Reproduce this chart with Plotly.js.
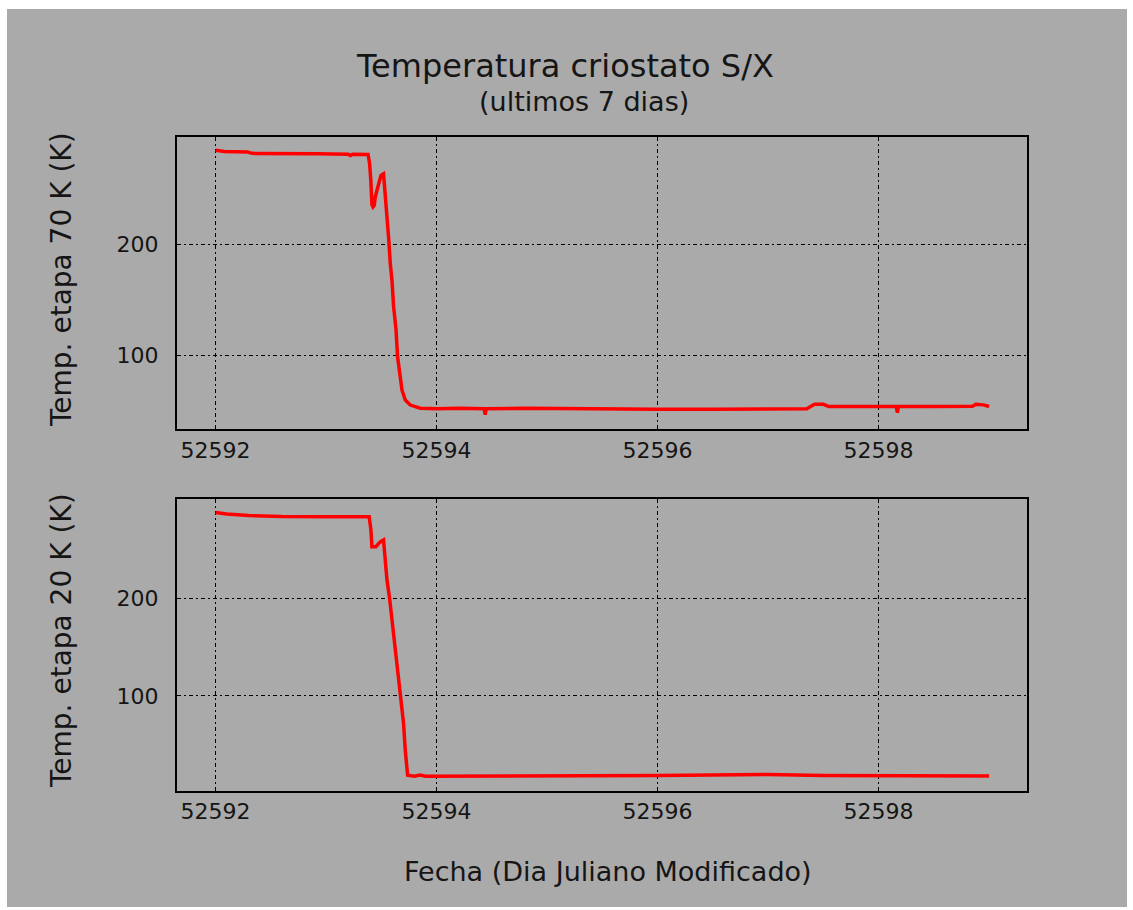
<!DOCTYPE html>
<html>
<head>
<meta charset="utf-8">
<script src="https://cdn.plot.ly/plotly-3.0.1.min.js"></script>
<style>
  html, body { margin: 0; padding: 0; background: #ffffff; }
  #chart { position: absolute; left: 7px; top: 9px; width: 1120px; height: 898px; }
</style>
</head>
<body>
<div id="chart"></div>
<script>
// ---- Data ----
const mjd70 = [52592.00, 52592.08, 52592.29, 52592.33, 52592.92, 52593.20, 52593.22, 52593.24, 52593.38,
  52593.394, 52593.405, 52593.415, 52593.425, 52593.436, 52593.445, 52593.475, 52593.497, 52593.52,
  52593.536, 52593.551, 52593.566, 52593.581, 52593.596, 52593.611, 52593.633, 52593.647, 52593.665,
  52593.687, 52593.717, 52593.762, 52593.853, 52594.0, 52594.2, 52594.43, 52594.44, 52594.45, 52594.8,
  52595.2, 52595.6, 52596.0, 52596.5, 52597.0, 52597.35, 52597.42, 52597.5, 52597.55, 52598.0, 52598.16,
  52598.17, 52598.18, 52598.5, 52598.85, 52598.88, 52598.95, 52599.0];
const temp70 = [285.2, 284.0, 283.6, 282.4, 282.0, 281.6, 280.5, 281.6, 281.4,
  273, 258, 236, 234, 235.5, 243, 255, 262.6, 264,
  246, 225, 206, 183, 168, 144, 123, 98.5, 83.5,
  68.4, 59.3, 54.8, 52, 51.5, 52, 51.5, 46, 51.5, 52,
  51.5, 51, 51, 51, 51.2, 51.5, 55.5, 55.5, 53.5, 53.5, 53.5,
  48, 53.5, 53.5, 53.8, 55.5, 55, 53.5];

const mjd20 = [52592.00, 52592.1, 52592.3, 52592.6, 52593.0, 52593.39, 52593.406, 52593.415, 52593.45,
  52593.49, 52593.52, 52593.536, 52593.551, 52593.575, 52593.596, 52593.617, 52593.642, 52593.665,
  52593.681, 52593.701, 52593.717, 52593.732, 52593.738, 52593.80, 52593.85, 52593.9, 52594.0, 52594.5,
  52595.0, 52595.5, 52596.0, 52596.5, 52597.0, 52597.5, 52598.0, 52598.5, 52599.0];
const temp20 = [288, 286.5, 285, 284, 283.8, 283.8, 270, 253, 253,
  258, 260, 232, 219, 200, 178, 157, 133, 109,
  92, 72, 44, 27, 18.6, 17.6, 18.8, 17.6, 17.6, 17.6,
  17.6, 17.8, 18.5, 19, 19.5, 18.5, 18, 17.8, 17.8];

const xTickVals = [52592, 52594, 52596, 52598];
const xTickText = ["52592", "52594", "52596", "52598"];
const yTickVals = [100, 200];
const yTickText = ["100", "200"];

const titleText = "Temperatura criostato S/X";
const subtitleText = "(ultimos 7 dias)";
const yTitle1 = "Temp. etapa 70 K (K)";
const yTitle2 = "Temp. etapa 20 K (K)";
const xTitle = "Fecha (Dia Juliano Modificado)";

// ---- Layout geometry ----
const W = 1120, H = 898;
const mL = 170, mR = 100, mT = 128, mB = 116;
const pW = W - mL - mR, pH = H - mT - mB;
const OX = 7, OY = 9;                         // div offset in page
const px = x => (x - OX - mL) / pW;           // page px -> paper x
const py = y => (H - mB - (y - OY)) / pH;     // page px -> paper y

const FONT = "DejaVu Sans, sans-serif";
const GREY = "#aaaaaa";
const txt = "#151515";

const gridDash = "4px,3px,2px,3px";

const xCommon = {
  range: [52591.651, 52599.343],
  tickvals: xTickVals, ticktext: xTickText,
  showgrid: true, gridcolor: "#000000", gridwidth: 1, griddash: gridDash,
  showline: true, mirror: true, linecolor: "#000000", linewidth: 2,
  ticks: "", zeroline: false,
  tickfont: { family: FONT, size: 22, color: txt },
  ticklabelstandoff: 0
};
const yCommon = {
  tickvals: yTickVals, ticktext: yTickText,
  showgrid: true, gridcolor: "#000000", gridwidth: 1, griddash: gridDash,
  showline: true, mirror: true, linecolor: "#000000", linewidth: 2,
  ticks: "", zeroline: false,
  tickfont: { family: FONT, size: 22, color: txt },
  ticklabelstandoff: 12
};

const traces = [
  { x: mjd70, y: temp70, type: "scatter", mode: "lines", xaxis: "x", yaxis: "y",
    line: { color: "#ff0000", width: 3.5 }, hoverinfo: "x+y", showlegend: false },
  { x: mjd20, y: temp20, type: "scatter", mode: "lines", xaxis: "x2", yaxis: "y2",
    line: { color: "#ff0000", width: 3.5 }, hoverinfo: "x+y", showlegend: false }
];

// frame edges in page px
const topBottomPage = 429.3, botTopPage = 499.3;

const layout = {
  width: W, height: H,
  margin: { l: mL, r: mR, t: mT, b: mB, pad: 0 },
  paper_bgcolor: GREY, plot_bgcolor: GREY,
  showlegend: false,
  xaxis: Object.assign({}, xCommon, { anchor: "y", domain: [0, 1] }),
  yaxis: Object.assign({}, yCommon, { anchor: "x", domain: [py(topBottomPage), 1], range: [32.9, 297.2] }),
  xaxis2: Object.assign({}, xCommon, { anchor: "y2", domain: [0, 1] }),
  yaxis2: Object.assign({}, yCommon, { anchor: "x2", domain: [0, py(botTopPage)], range: [2.5, 301.6] }),
  annotations: [
    { text: titleText, xref: "paper", yref: "paper", x: px(565), y: py(66),
      xanchor: "center", yanchor: "middle", showarrow: false,
      font: { family: FONT, size: 32, color: txt } },
    { text: subtitleText, xref: "paper", yref: "paper", x: px(584), y: py(101),
      xanchor: "center", yanchor: "middle", showarrow: false,
      font: { family: FONT, size: 27, color: txt } },
    { text: yTitle1, xref: "paper", yref: "paper", x: px(61), y: py(280),
      xanchor: "center", yanchor: "middle", showarrow: false, textangle: -90,
      font: { family: FONT, size: 28, color: txt } },
    { text: yTitle2, xref: "paper", yref: "paper", x: px(61), y: py(641),
      xanchor: "center", yanchor: "middle", showarrow: false, textangle: -90,
      font: { family: FONT, size: 28, color: txt } },
    { text: xTitle, xref: "paper", yref: "paper", x: px(608), y: py(871),
      xanchor: "center", yanchor: "middle", showarrow: false,
      font: { family: FONT, size: 27, color: txt } }
  ]
};

Plotly.newPlot("chart", traces, layout, { displayModeBar: false, staticPlot: true });
</script>
</body>
</html>
